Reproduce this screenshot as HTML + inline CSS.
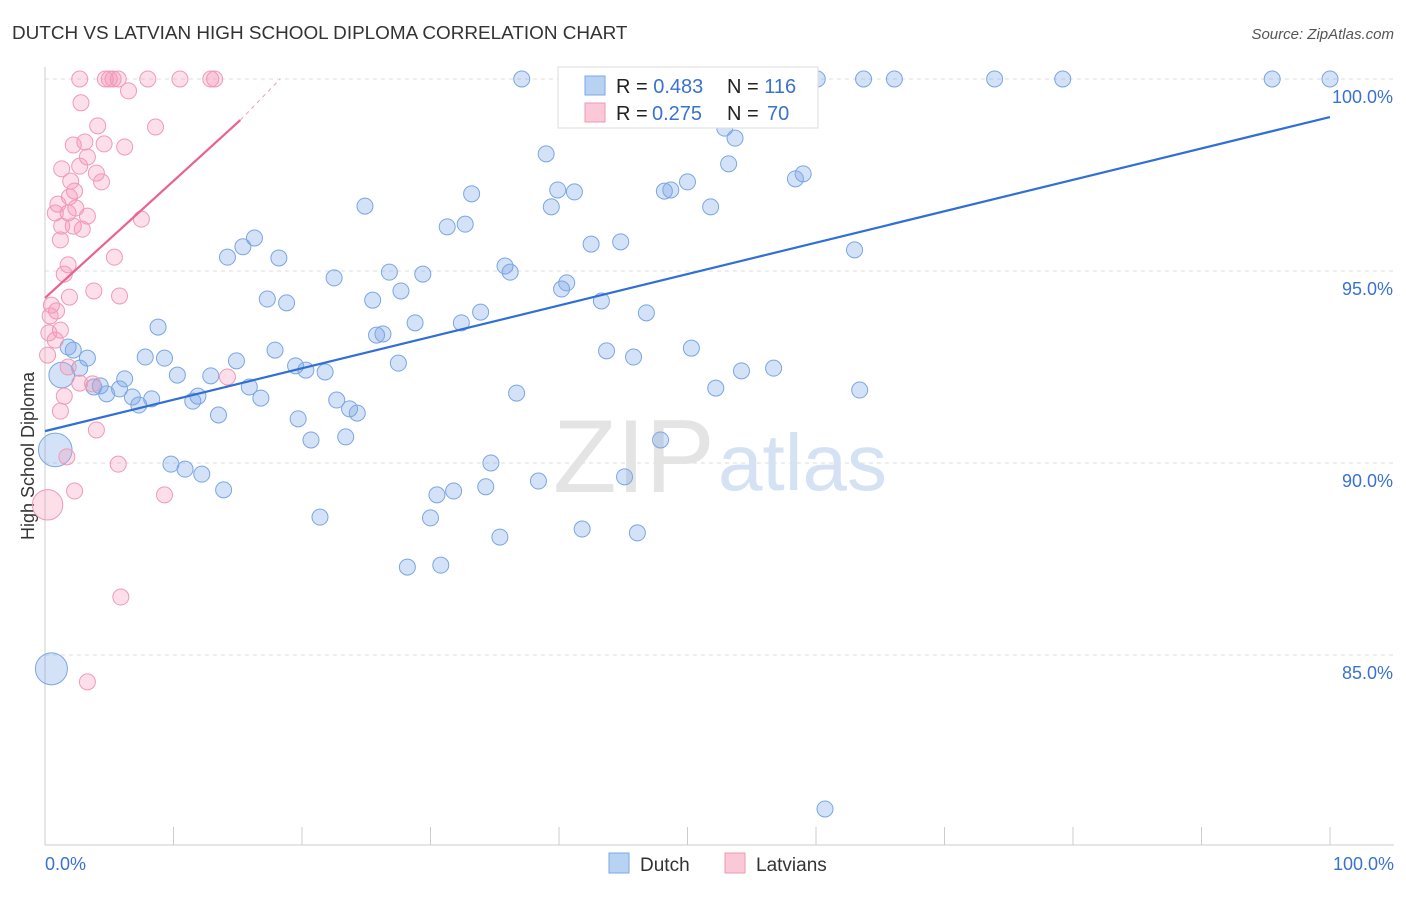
<!DOCTYPE html>
<html><head><meta charset="utf-8"><style>
body{margin:0;background:#fff;font-family:"Liberation Sans",sans-serif;}
svg text{font-family:"Liberation Sans",sans-serif;}
</style></head><body>
<svg id="chart" width="1406" height="892" xmlns="http://www.w3.org/2000/svg">
<text x="12" y="39" font-size="18.9" fill="#333">DUTCH VS LATVIAN HIGH SCHOOL DIPLOMA CORRELATION CHART</text>
<text x="1394" y="39" font-size="15" fill="#555" text-anchor="end" font-style="italic">Source: ZipAtlas.com</text>
<text x="34" y="456" font-size="18" fill="#333" text-anchor="middle" transform="rotate(-90 34 456)">High School Diploma</text>
<g id="grid"></g>
<text x="553" y="492" font-size="104" fill="#e4e4e4" font-family="Liberation Serif">ZIP</text>
<text x="718" y="490" font-size="80" fill="#d4e2f4">atlas</text>
<g id="marks"></g>
<g>
<rect x="558" y="67" width="260" height="61" fill="#fff" stroke="#ddd"/>
<rect x="585" y="76" width="20" height="19" fill="#b8d2f4" stroke="#7aa8e6"/>
<rect x="585" y="103" width="20" height="19" fill="#fbc8d8" stroke="#ee9ab4"/>
<text x="616" y="93" font-size="20" fill="#222">R = <tspan fill="#3a72d0">0.483</tspan><tspan x="727">N = </tspan><tspan fill="#3a72d0">116</tspan></text>
<text x="616" y="120" font-size="20" fill="#222">R = <tspan fill="#3a72d0" x="652">0.275</tspan><tspan x="727">N = </tspan><tspan fill="#3a72d0" x="767">70</tspan></text>
</g>
<g>
<rect x="609" y="853" width="20" height="20" fill="#b8d2f4" stroke="#7aa8e6"/>
<text x="640" y="871" font-size="19" fill="#333">Dutch</text>
<rect x="725" y="853" width="20" height="20" fill="#fbc8d8" stroke="#ee9ab4"/>
<text x="756" y="871" font-size="19" fill="#333">Latvians</text>
</g>
</svg>
<script>
const dutchX=[37.1,60.1,63.7,66.1,73.9,79.2,95.5,100,52.9,53.7,39.0,53.2,59.0,58.4,50.0,33.2,39.9,41.2,48.2,48.7,51.8,24.9,39.4,31.3,32.7,16.3,15.4,14.2,18.2,42.5,44.8,63.0,35.8,36.2,26.8,29.4,22.5,40.6,40.2,27.7,17.3,18.8,25.5,43.3,33.9,46.8,28.8,32.4,8.8,25.8,26.3,1.8,2.2,3.3,17.9,43.7,45.8,50.3,7.8,9.3,14.9,27.5,19.5,20.3,21.8,2.7,10.3,12.9,54.2,56.7,6.2,3.8,4.3,5.8,4.8,15.9,52.2,63.4,36.7,6.8,8.3,7.3,11.5,11.9,16.8,22.7,23.7,24.3,13.5,19.7,23.4,20.7,47.9,9.8,10.9,12.2,34.7,13.9,30.5,31.8,34.3,38.4,45.1,21.4,30.0,41.8,35.4,46.1,28.2,30.8,60.7,0.5,0.8,1.3];
const dutchY=[100,100,100,100,100,100,100,100,98.72,98.46,98.05,97.79,97.53,97.40,97.32,97.01,97.11,97.06,97.08,97.11,96.67,96.69,96.67,96.15,96.22,95.86,95.63,95.36,95.34,95.70,95.76,95.55,95.13,94.97,94.97,94.92,94.82,94.69,94.53,94.48,94.27,94.17,94.24,94.22,93.93,93.91,93.65,93.65,93.54,93.33,93.36,93.02,92.94,92.73,92.94,92.92,92.76,92.99,92.76,92.73,92.66,92.60,92.53,92.42,92.37,92.47,92.29,92.27,92.40,92.47,92.19,91.98,92.01,91.93,91.80,91.98,91.95,91.90,91.82,91.72,91.67,91.51,91.61,91.74,91.69,91.64,91.41,91.30,91.25,91.15,90.68,90.60,90.60,89.97,89.84,89.71,90.0,89.30,89.17,89.27,89.38,89.53,89.64,88.59,88.57,88.28,88.07,88.18,87.29,87.34,80.99,84.64,90.34,92.29];
const dutchSize=[];for(let i=0;i<dutchX.length;i++)dutchSize.push(1);
dutchSize[dutchX.length-3]=2;dutchSize[dutchX.length-2]=2.1;dutchSize[dutchX.length-1]=1.6;
const latX=[2.7,4.7,5.0,5.3,5.7,8.0,10.5,12.9,13.2,6.5,2.8,4.1,8.6,2.2,4.6,3.1,6.2,3.3,1.3,2.7,4.0,4.4,2.0,2.3,1.9,1.0,2.4,0.8,1.8,3.3,7.5,1.3,2.2,2.9,1.2,5.4,1.8,1.5,3.8,5.8,1.9,0.5,0.9,0.4,1.2,0.3,0.8,0.2,1.8,14.2,2.7,3.7,1.5,1.2,4.0,1.7,5.7,2.3,9.3,5.9,3.3,0.2];
const latY=[100,100,100,100,100,100,100,100,100,99.69,99.38,98.78,98.75,98.28,98.31,98.36,98.23,97.97,97.66,97.73,97.55,97.32,97.34,97.08,96.93,96.74,96.64,96.51,96.51,96.43,96.35,96.17,96.17,96.09,95.81,95.36,95.16,94.92,94.48,94.35,94.32,94.11,93.96,93.83,93.46,93.39,93.20,92.81,92.50,92.24,92.08,92.06,91.74,91.35,90.86,90.16,89.97,89.27,89.17,86.51,84.30,88.91];
const latSize=latX.map((v,i)=>i===latX.length-1?1.9:1);
const dutchTrendX=[0,100],dutchTrendY=[90.83,99.01];
const latTrendX=[0,15.2,18.3],latTrendY=[94.30,98.93,100];
const yTicks=[100,95,90,85],yTickLabels=["100.0%","95.0%","90.0%","85.0%"];
const xTickVals=[0,10,20,30,40,50,60,70,80,90,100];
const xs=v=>45+v*12.85, ys=v=>79+(100-v)*38.4;
const NS="http://www.w3.org/2000/svg";
function mk(tag,attrs,parent){const e=document.createElementNS(NS,tag);for(const k in attrs)e.setAttribute(k,attrs[k]);parent.appendChild(e);return e;}
const grid=document.getElementById('grid'),marks=document.getElementById('marks');
yTicks.forEach((t,i)=>{
 const l=mk('line',{x1:45,x2:1394,y1:ys(t),y2:ys(t),stroke:'#ddd','stroke-dasharray':'4,4'},grid);
 
 
 const tx=mk('text',{x:1393,y:ys(t)+24,'font-size':18,fill:'#3a72d0','text-anchor':'end'},grid);
 tx.textContent=yTickLabels[i];
 
 
});
const ax=mk('line',{x1:45,x2:45,y1:67,y2:845,stroke:'#ccc'},grid);


const bx=mk('line',{x1:45,x2:1394,y1:845,y2:845,stroke:'#ccc'},grid);


xTickVals.forEach(v=>{
 const t=mk('line',{x1:xs(v),x2:xs(v),y1:827,y2:845,stroke:'#ccc'},grid);
 
 
});
const xl0=mk('text',{x:45,y:870,'font-size':18,fill:'#3a72d0'},grid);xl0.textContent='0.0%';


const xl1=mk('text',{x:1394,y:870,'font-size':18,fill:'#3a72d0','text-anchor':'end'},grid);xl1.textContent='100.0%';


dutchX.forEach((v,i)=>{
 const c=mk('circle',{cx:xs(v),cy:ys(dutchY[i]),r:8*dutchSize[i],fill:'rgba(120,165,230,0.32)',stroke:'#7aa6e4','stroke-width':1},marks);
 
 
});
latX.forEach((v,i)=>{
 const c=mk('circle',{cx:xs(v),cy:ys(latY[i]),r:8*latSize[i],fill:'rgba(245,150,180,0.3)',stroke:'#f09ab6','stroke-width':1},marks);
 
 
});
const dl=mk('line',{x1:xs(dutchTrendX[0]),y1:ys(dutchTrendY[0]),x2:xs(dutchTrendX[1]),y2:ys(dutchTrendY[1]),stroke:'#2f6fd6','stroke-width':2.2},marks);


const ll=mk('line',{x1:xs(latTrendX[0]),y1:ys(latTrendY[0]),x2:xs(latTrendX[1]),y2:ys(latTrendY[1]),stroke:'#e8638f','stroke-width':2.2},marks);


const ld=mk('line',{x1:xs(latTrendX[1]),y1:ys(latTrendY[1]),x2:xs(latTrendX[2]),y2:ys(latTrendY[2]),stroke:'#f0a0b8','stroke-width':1,'stroke-dasharray':'4,4'},marks);


</script>
</body></html>
